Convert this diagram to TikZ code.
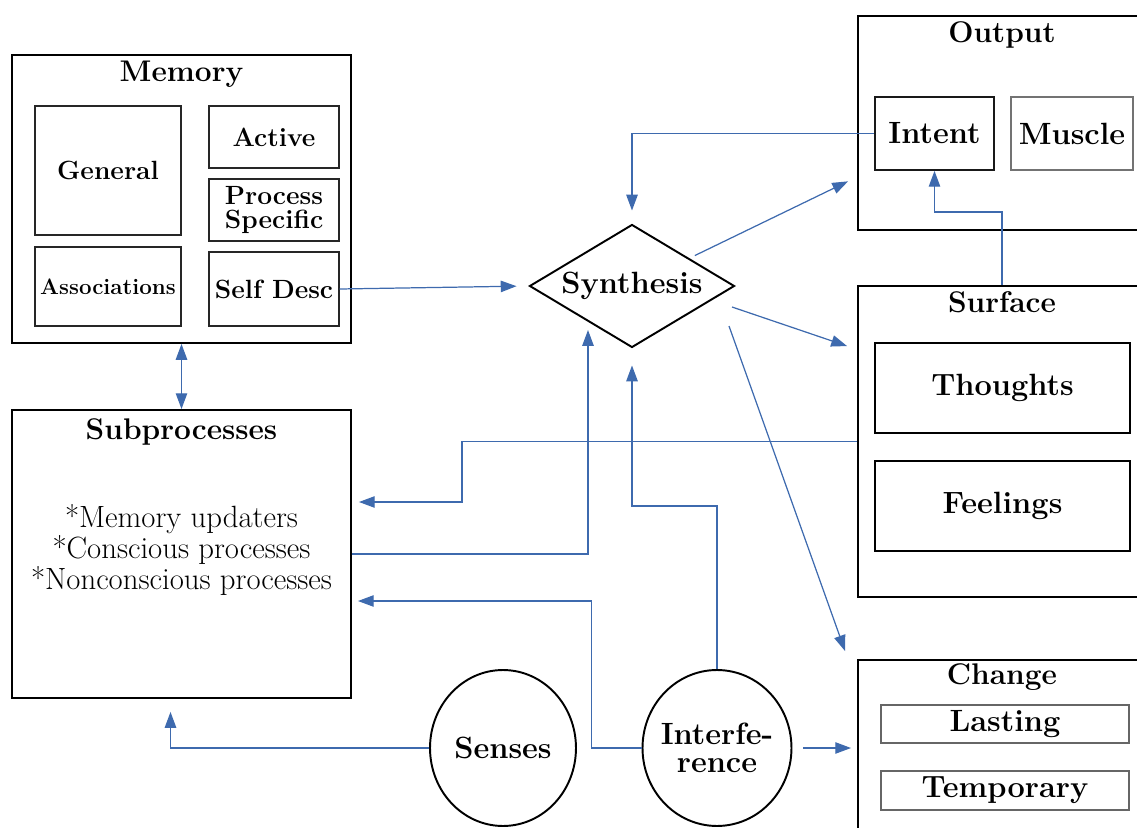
\documentclass[tikz,border=0pt]{standalone}
\usetikzlibrary{positioning,shapes.geometric,arrows.meta,calc}
\definecolor{linkblue}{RGB}{62,106,174}
\begin{document}
\begin{tikzpicture}[x=0.02cm, y=-0.02cm,
        box/.style={draw, line width=1.1pt, inner sep=0pt},
        part/.style={draw=black!85, line width=0.8pt, inner sep=0pt, font=\fontsize{15}{14}\selectfont\bfseries},
        big/.style={font=\fontsize{17.5}{16}\selectfont\bfseries},
        head/.style={font=\fontsize{17}{19}\selectfont\bfseries, inner sep=0pt},
        synthbox/.style={diamond, draw, line width=1.1pt, inner sep=0pt, aspect=1.67, font=\fontsize{17.5}{19}\selectfont\bfseries},
        blob/.style={ellipse, draw, line width=1.1pt, inner sep=0pt, align=center, font=\fontsize{17.5}{16}\selectfont\bfseries},
        link/.style={draw=linkblue, line width=0.7pt, -{Triangle[length=9pt, width=6.5pt]}}]

        \useasboundingbox (0,0) rectangle (1137,828);
        \clip (0,0) rectangle (1137,828);

        % Nodes (Memory)
        \node[box, minimum width=6.78cm, minimum height=5.76cm] (mem) at (181.5,199) {};
        \node[head] (memT) at (181.5,74) {Memory};
        \node[part, minimum width=2.92cm, minimum height=2.58cm] (general) at (108,170.5) {General};
        \node[part, minimum width=2.6cm, minimum height=1.24cm] (active) at (274,137) {Active};
        \node[part, minimum width=2.6cm, minimum height=1.24cm, align=center] (procspec) at (274,210) {Process\\Specific};
        \node[part, minimum width=2.92cm, minimum height=1.58cm, font=\fontsize{12.7}{14}\selectfont\bfseries] (assoc) at (108,286.5) {Associations};
        \node[part, minimum width=2.6cm, minimum height=1.48cm] (selfdesc) at (274,289) {Self Desc};

        % Nodes (Subprocesses)
        \node[box, minimum width=6.78cm, minimum height=5.76cm] (subproc) at (181.5,554) {};
        \node[head] (subprocT) at (181.5,432) {Subprocesses};
        \node[align=center, inner sep=0pt, font=\fontsize{17.5}{16}\selectfont] (subprocTxt) at (181.5,550)
            {{*}Memory updaters\\ {*}Conscious processes\\ {*}Nonconscious processes};

        % Nodes (Synthesis)
        \node[synthbox, minimum width=4.1cm, minimum height=2.46cm] (synth) at (632,286) {Synthesis};

        % Nodes (Output)
        \node[box, minimum width=5.76cm, minimum height=4.28cm] (output) at (1002,123) {};
        \node[head] (outputT) at (1002,35) {Output};
        \node[part, big, draw=black!90, line width=1pt, minimum width=2.38cm, minimum height=1.46cm] (intent) at (934.5,133.5) {Intent};
        \node[part, big, draw=black!55, minimum width=2.44cm, minimum height=1.46cm] (muscle) at (1072,133.5) {Muscle};

        % Nodes (Surface)
        \node[box, minimum width=5.76cm, minimum height=6.22cm] (surface) at (1002,441.5) {};
        \node[head] (surfaceT) at (1002,302) {Surface};
        \node[part, big, draw=black, line width=1.1pt, minimum width=5.1cm, minimum height=1.8cm] (thoughts) at (1002.5,388) {Thoughts};
        \node[part, big, draw=black, line width=1.1pt, minimum width=5.1cm, minimum height=1.8cm] (feelings) at (1002.5,506) {Feelings};

        % Nodes (Change)
        \node[box, minimum width=5.76cm, minimum height=3.8cm] (change) at (1002,755) {};
        \node[head] (changeT) at (1002,677) {Change};
        \node[part, big, draw=black!60, minimum width=4.96cm, minimum height=0.76cm] (lasting) at (1005,724) {Lasting};
        \node[part, big, draw=black!60, minimum width=4.96cm, minimum height=0.78cm] (temporary) at (1005,790.5) {Temporary};

        % Nodes (Inputs)
        \node[blob, minimum width=2.92cm, minimum height=3.12cm] (senses) at (503,748) {Senses};
        \node[blob, inner sep=-2.5pt, minimum width=2.98cm, minimum height=3.12cm] (interf) at (717,748) {Interfe-\\rence};

        % Arcs
        \draw[link, shorten >=0.24cm] (selfdesc.east) -- (synth.west);
        \draw[link, {Triangle[length=9pt, width=6.5pt]}-{Triangle[length=9pt, width=6.5pt]}] (mem.south) -- (subproc.north);
        \draw[link, shorten >=0.26cm] (intent.west) -| (synth.north);
        \draw[link, shorten <=0.12cm, shorten >=0.2cm] (synth) -- ($(output.south west)!0.5!(output.west)$);
        \draw[link] ($(synth.center)+(100,21)$) -- ($(surface.north west)+(-10,61)$);
        \draw[link] ($(synth.center)+(97,40)$) -- ($(change.north west)+(-12,-8)$);
        \draw[link] (surface.north) -- ++(0,-73) -| (intent.south);
        \draw[link, shorten >=0.14cm] (surface.west) -- ++(-395,0) |- ($(subproc.east)+(0,-52)$);
        \draw[link] (subproc.east) -| ($(synth.center)+(-44,44)$);
        \draw[link] (interf.north) -- ++(0,-163) -| ($(synth.south)+(0,17)$);
        \draw[link, shorten >=0.12cm] (interf.west) -- ++(-50,0) |- ($(subproc.east)+(0,47)$);
        \draw[link, shorten >=0.26cm] (senses.west) -| ($(subproc.south)+(-11,0)$);
        \draw[link, shorten <=0.22cm, shorten >=0.12cm] (interf.east) -- (interf.east -| change.west);
    \end{tikzpicture}
\end{document}
